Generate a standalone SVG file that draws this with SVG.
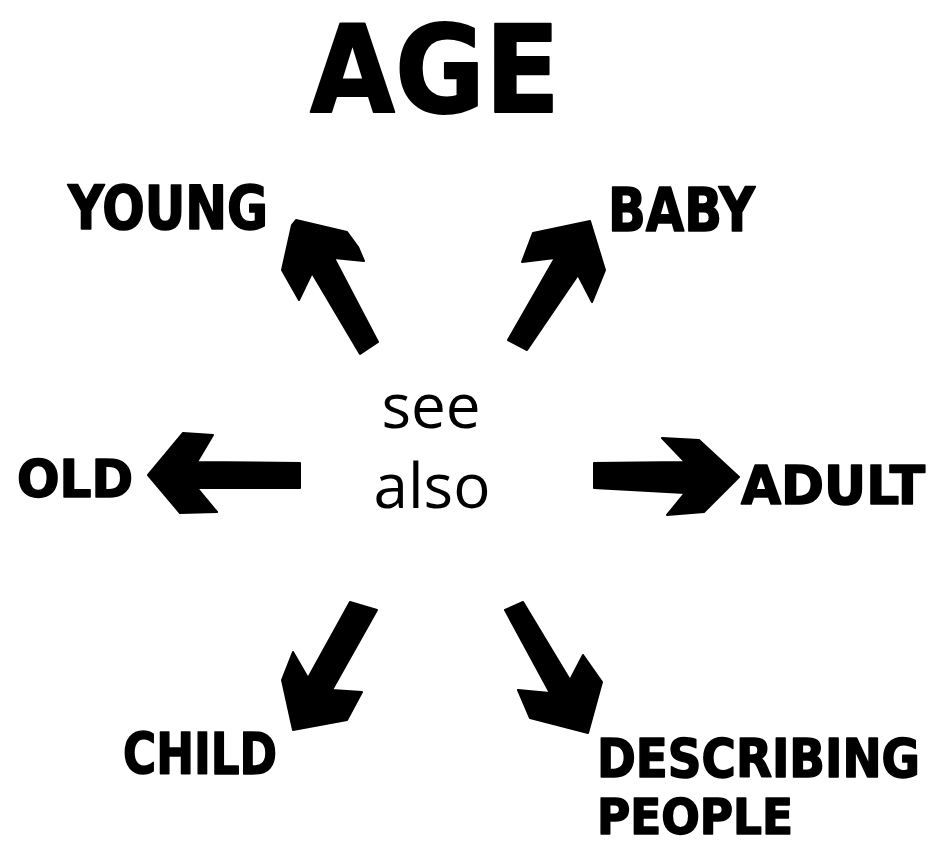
<svg xmlns="http://www.w3.org/2000/svg" width="932" height="845" viewBox="0 0 932 845">
<style>
.lbl{font-family:"DejaVu Sans Condensed","DejaVu Sans","Liberation Sans",sans-serif;font-stretch:condensed;font-weight:bold;fill:#000;stroke:#000;stroke-width:1.5;stroke-linejoin:round}
.title{font-family:"DejaVu Sans","Liberation Sans",sans-serif;font-weight:bold;fill:#000;stroke:#000;stroke-width:2;stroke-linejoin:round}
.mid{font-family:"Open Sans","Noto Sans",sans-serif;fill:#000;text-anchor:middle}
.arr{fill:#000;stroke:#000;stroke-width:2;stroke-linejoin:round}
</style>
<rect width="932" height="845" fill="#fff"/>
<g id="title"><text class="title" x="310" y="112" font-size="122" textLength="250" lengthAdjust="spacingAndGlyphs">AGE</text></g>
<g id="center"><text class="mid" x="431" y="428" font-size="62">see</text><text class="mid" x="432" y="508" font-size="62">also</text></g>
<g id="young"><text class="lbl" x="68" y="229" font-size="60" textLength="200" lengthAdjust="spacingAndGlyphs">YOUNG</text></g>
<g id="baby"><text class="lbl" x="608" y="231" font-size="60" textLength="147" lengthAdjust="spacingAndGlyphs">BABY</text></g>
<g id="old"><text class="lbl" x="17" y="497" font-size="52" textLength="116" lengthAdjust="spacingAndGlyphs">OLD</text></g>
<g id="adult"><text class="lbl" x="741" y="504" font-size="54" textLength="184" lengthAdjust="spacingAndGlyphs">ADULT</text></g>
<g id="child"><text class="lbl" x="123" y="774" font-size="57" textLength="154" lengthAdjust="spacingAndGlyphs">CHILD</text></g>
<g id="describing-people"><text class="lbl" x="597" y="777" font-size="53" textLength="323" lengthAdjust="spacingAndGlyphs">DESCRIBING</text><text class="lbl" x="597" y="834" font-size="50" textLength="196" lengthAdjust="spacingAndGlyphs">PEOPLE</text></g>
<g id="connectors">
<polygon class="arr" points="296,220 347,232 358,247 364,261 334,258 378,342 360,354 312,273 299,300 282,270 292,225"/>
<polygon class="arr" points="590,221 605,270 592,302 578,275 527,350 508,340 555,258 522,262 533,233"/>
<polygon class="arr" points="148,475 183,433 213,435 197,462 300,463 300,488 197,488 217,512 180,513"/>
<polygon class="arr" points="594,463 685,462 662,438 699,440 739,477 704,512 667,515 685,493 594,488"/>
<polygon class="arr" points="350,602 377,610 332,690 362,692 347,720 293,730 282,680 293,652 308,678"/>
<polygon class="arr" points="505,610 523,602 570,680 583,655 602,682 588,733 530,718 518,690 550,693"/>
</g>
</svg>
